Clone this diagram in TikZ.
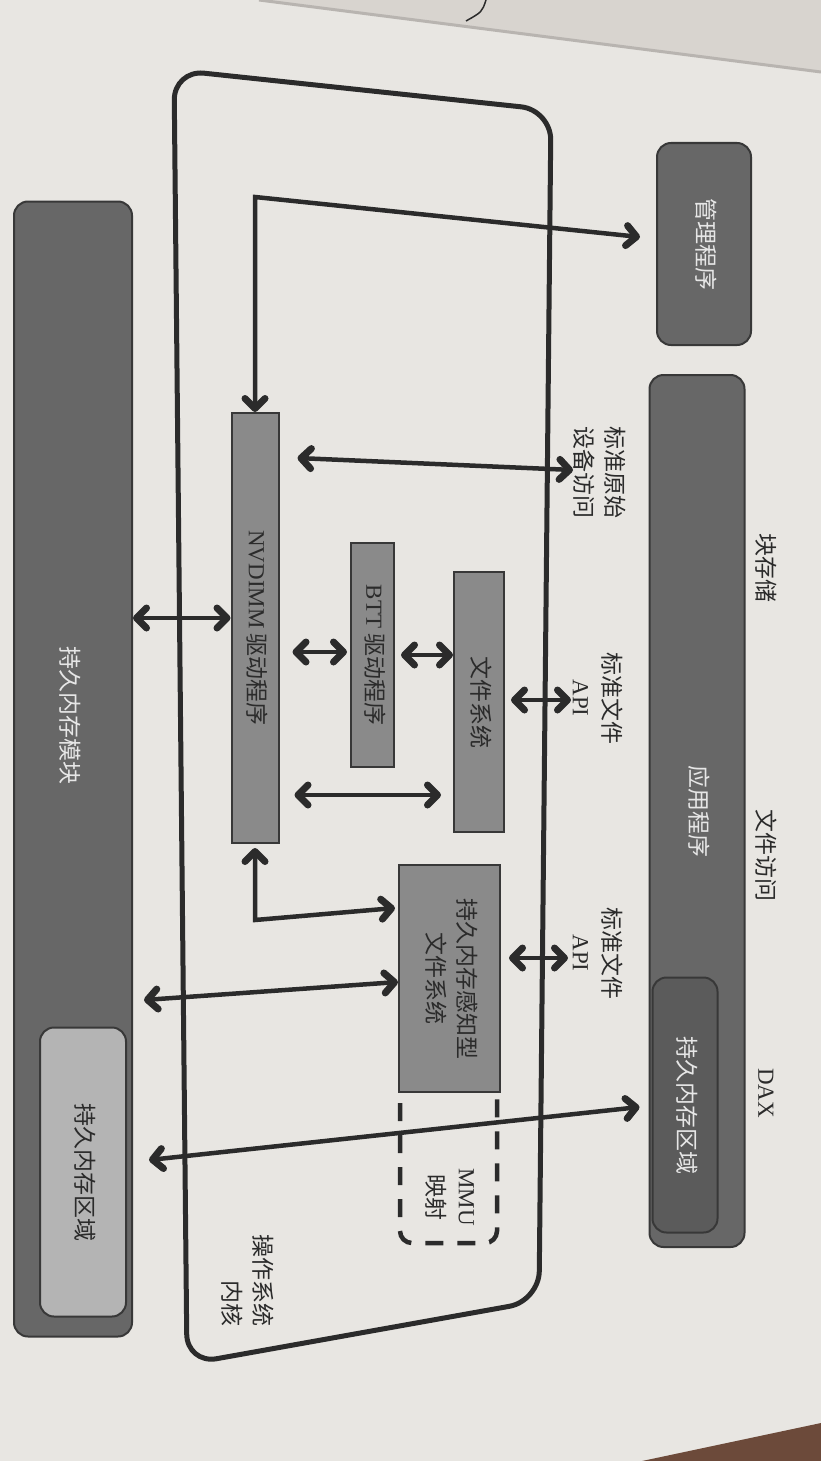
\documentclass[tikz,border=0pt]{standalone}
\usepackage{graphicx}
\usepackage{fontspec}
\setmainfont{Noto Sans CJK SC}
\newfontfamily\lat{Liberation Serif}
\usetikzlibrary{arrows.meta,calc}
\definecolor{paper}{HTML}{E8E6E2}
\definecolor{otherpage}{HTML}{D8D4CF}
\definecolor{table}{HTML}{6C4A3A}
\definecolor{darkfill}{HTML}{676767}
\definecolor{midfill}{HTML}{8A8A8A}
\definecolor{pmdark}{HTML}{5B5B5B}
\definecolor{pmlight}{HTML}{B4B4B4}
\definecolor{boxedge}{HTML}{383838}
\definecolor{ink}{HTML}{2B2B2B}
\definecolor{lighttext}{HTML}{E6E6E6}
\newcommand\vt[1]{\rotatebox[origin=c]{-90}{\begin{tabular}{@{}c@{}}#1\end{tabular}}}
\tikzset{
  darkbox/.style={draw=boxedge, fill=darkfill, line width=2pt, rounded corners=14pt, text=lighttext, inner sep=0pt},
  midbox/.style={draw=boxedge, fill=midfill, line width=2pt, text=ink, inner sep=0pt},
  lbl/.style={text=ink, inner sep=0pt, rotate=-90, align=center},
  barb/.tip={Straight Barb[length=10pt,width=20pt,line width=7pt,round]},
  dbl/.style={line width=4.5pt, draw=ink, barb-barb},
  kernelline/.style={line width=5pt, draw=ink, rounded corners=30pt},
  mmuline/.style={line width=4.5pt, draw=ink, dash pattern=on 18pt off 14pt, dash phase=22pt, rounded corners=12pt}
}
\begin{document}
\begin{tikzpicture}[x=1pt, y=-1pt, font=\fontsize{23}{31}\selectfont]
\useasboundingbox (0,0) rectangle (821,1461);
\fill[paper] (0,0) rectangle (821,1461);
\fill[otherpage] (259,0) -- (821,0) -- (821,72) -- cycle;
\draw[line width=3pt, draw=otherpage!85!black] (259,0) -- (821,72);
\draw[line width=1.5pt, draw=ink] (486,0) .. controls (482,12) .. (466,21);
\fill[table] (642,1461) -- (821,1423) -- (821,1461) -- cycle;

% kernel outline
\draw[kernelline] (174,70) -- (551,110) -- (539,1301) -- (187,1364) -- cycle;

% boxes
\node[darkbox, minimum width=94pt, minimum height=202pt] (mgr) at (704,244) {\vt{管理程序}};
\node[darkbox, minimum width=95pt, minimum height=872pt] (app) at (697,811) {\vt{应用程序}};
\node[darkbox, fill=pmdark, minimum width=65pt, minimum height=255pt] (appPM) at (685,1105) {\vt{持久内存区域}};
\node[darkbox, minimum width=118pt, minimum height=1135pt] (module) at (73,769) {};
\node[lbl, text=lighttext] (modlbl) at (70,715) {持久内存模块};
\node[darkbox, fill=pmlight, text=ink, minimum width=86pt, minimum height=289pt] (modPM) at (83,1172) {\vt{持久内存区域}};

\node[midbox, minimum width=47pt, minimum height=430pt] (nvd) at (255,628) {\vt{{\lat NVDIMM} 驱动程序}};
\node[midbox, minimum width=43pt, minimum height=224pt] (btt) at (372.5,655) {\vt{{\lat BTT} 驱动程序}};
\node[midbox, minimum width=50pt, minimum height=260pt] (fs) at (479,702) {\vt{文件系统}};
\node[midbox, minimum width=101pt, minimum height=227pt] (pmfs) at (449.5,978.5) {\vt{持久内存感知型\\文件系统}};

% MMU dashed region
\draw[mmuline] ([xshift=2pt]pmfs.south west) -- ([xshift=2pt]pmfs.south west |- 0,1243) -- ([xshift=-4pt]pmfs.south east |- 0,1243) -- ([xshift=-4pt]pmfs.south east);
\node[lbl] (mmulbl) at (450,1197) {{\lat MMU}\\映射};

% labels
\node[lbl] (blk) at (766,568) {块存储};
\node[lbl] (fileacc) at (766,855) {文件访问};
\node[lbl] (dax) at (766,1093) {\lat DAX};
\node[lbl] (raw) at (600,472) {标准原始\\设备访问};
\node[lbl] (api1) at (598,698) {标准文件\\{\lat API}};
\node[lbl] (api2) at (598,953) {标准文件\\{\lat API}};
\node[lbl, align=right] (kern) at (248,1280) {操作系统\\内核};

% connectors
\coordinate (mgrbend) at (255,197);
\coordinate (pmbend) at (255,920);
\coordinate (rawend) at (573,470);
\coordinate (api1end) at (571,700);
\coordinate (api2end) at (568,958);

\draw[dbl] (nvd.north) -- (mgrbend) -- ([xshift=-16pt,yshift=7pt]mgr.west);
\draw[dbl] ([xshift=18pt]nvd.east |- 0,458) -- (rawend);
\draw[dbl] (module.east |- 0,618) -- (nvd.west |- 0,618);
\draw[dbl] ([xshift=13pt]nvd.east |- 0,652) -- ([xshift=-3pt]btt.west |- 0,652);
\draw[dbl] ([xshift=6pt]btt.east |- 0,655) -- (fs.west |- 0,655);
\draw[dbl] ([xshift=6pt]fs.east |- 0,700) -- (api1end);
\draw[dbl] ([xshift=15pt]nvd.east |- 0,795) -- ([xshift=-12pt]fs.west |- 0,795);
\draw[dbl] ([yshift=-4pt]nvd.south) -- (pmbend) -- ([xshift=-3pt]pmfs.west |- 0,908);
\draw[dbl] ([xshift=8pt]pmfs.east |- 0,958) -- (api2end);
\draw[dbl] ([xshift=11pt]module.east |- 0,1000) -- (pmfs.west |- 0,982);
\draw[dbl] ([xshift=16pt]module.east |- 0,1160) -- ([xshift=-9pt]app.west |- 0,1107);
\end{tikzpicture}
\end{document}
